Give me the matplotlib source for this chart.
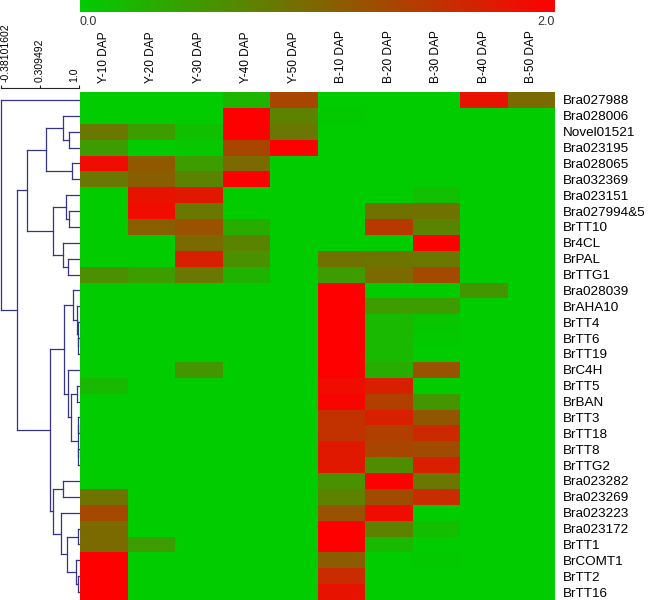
import numpy as np
import matplotlib
matplotlib.use('Agg')
import matplotlib.pyplot as plt
from matplotlib.colors import LinearSegmentedColormap

plt.rcParams['font.family'] = ['Liberation Sans', 'DejaVu Sans']

stages = ['Y-10 DAP', 'Y-20 DAP', 'Y-30 DAP', 'Y-40 DAP', 'Y-50 DAP',
          'B-10 DAP', 'B-20 DAP', 'B-30 DAP', 'B-40 DAP', 'B-50 DAP']

genes = ['Bra027988', 'Bra028006', 'Novel01521', 'Bra023195', 'Bra028065',
         'Bra032369', 'Bra023151', 'Bra027994&5', 'BrTT10', 'Br4CL',
         'BrPAL', 'BrTTG1', 'Bra028039', 'BrAHA10', 'BrTT4', 'BrTT6',
         'BrTT19', 'BrC4H', 'BrTT5', 'BrBAN', 'BrTT3', 'BrTT18', 'BrTT8',
         'BrTTG2', 'Bra023282', 'Bra023269', 'Bra023223', 'Bra023172',
         'BrTT1', 'BrCOMT1', 'BrTT2', 'BrTT16']

# relative expression, one row per gene (columns follow stages)
expr = [
    [0, 0, 0, 0.22, 1.32, 0, 0, 0, 1.82, 0.96],
    [0, 0, 0, 2.0, 0.72, 0.03, 0, 0, 0, 0],
    [0.83, 0.47, 0.13, 2.0, 0.83, 0, 0, 0, 0, 0],
    [0.47, 0, 0.05, 1.32, 2.0, 0, 0, 0, 0, 0],
    [1.88, 1.13, 0.47, 0.96, 0, 0, 0, 0, 0, 0],
    [0.83, 1.07, 0.71, 2.0, 0, 0, 0, 0, 0, 0],
    [0, 1.82, 1.76, 0, 0, 0, 0, 0.13, 0, 0],
    [0, 1.88, 0.83, 0, 0, 0, 0.88, 0.88, 0, 0],
    [0, 1.07, 1.19, 0.31, 0, 0, 1.44, 0.71, 0, 0],
    [0, 0, 0.96, 0.71, 0, 0, 0, 2.0, 0, 0],
    [0, 0, 1.69, 0.58, 0, 0.88, 0.86, 0.83, 0, 0],
    [0.6, 0.47, 0.83, 0.25, 0, 0.47, 0.96, 1.29, 0, 0],
    [0, 0, 0, 0, 0, 2.0, 0, 0, 0.53, 0],
    [0, 0, 0, 0, 0, 2.0, 0.47, 0.47, 0, 0],
    [0, 0, 0, 0, 0, 2.0, 0.19, 0.06, 0, 0],
    [0, 0, 0, 0, 0, 2.0, 0.19, 0.03, 0, 0],
    [0, 0, 0, 0, 0, 2.0, 0.19, 0, 0, 0],
    [0, 0, 0.53, 0, 0, 2.0, 0.31, 1.19, 0, 0],
    [0.19, 0, 0, 0, 0, 1.88, 1.69, 0, 0, 0],
    [0, 0, 0, 0, 0, 1.95, 1.38, 0.53, 0, 0],
    [0, 0, 0, 0, 0, 1.51, 1.69, 1.15, 0, 0],
    [0, 0, 0, 0, 0, 1.51, 1.38, 1.6, 0, 0],
    [0, 0, 0, 0, 0, 1.76, 1.32, 1.25, 0, 0],
    [0, 0, 0, 0, 0, 1.76, 0.63, 1.69, 0, 0],
    [0, 0, 0, 0, 0, 0.58, 2.0, 0.83, 0, 0],
    [0.86, 0, 0, 0, 0, 0.72, 1.25, 1.57, 0, 0],
    [1.29, 0, 0, 0, 0, 1.19, 1.88, 0, 0, 0],
    [0.96, 0, 0, 0, 0, 2.0, 0.72, 0.15, 0, 0],
    [0.96, 0.47, 0, 0, 0, 2.0, 0.19, 0, 0, 0],
    [2.0, 0, 0, 0, 0, 1.1, 0, 0.03, 0, 0],
    [2.0, 0, 0, 0, 0, 1.57, 0, 0, 0, 0],
    [2.0, 0, 0, 0, 0, 1.82, 0, 0, 0, 0],
]

# gene tree: [similarity, left, right]; ints are row indices
tree = [-0.38101602, 0,
        [-0.098,
         [0.079,
          [0.416, [0.717, 1, [0.824, 2, 3]], [0.877, 4, 5]],
          [0.540, [0.770, 6, [0.824, 7, 8]], [0.717, 9, [0.806, 10, 11]]]],
         [0.487,
          [0.735,
           [0.894, 12, [0.960, 13, [0.975, 14, [0.990, 15, 16]]]],
           [0.806, 17, [0.859, [0.965, 18, 19],
                        [0.975, [0.985, 20, 21], [0.985, 22, 23]]]]],
          [0.540,
           [0.717, 24, 25],
           [0.682, 26, [0.788, [0.983, 27, 28],
                        [0.947, 29, [0.990, 30, 31]]]]]]]]

scale_ticks = [-0.38101602, 0.309492, 1.0]
vmin, vmax = 0.0, 2.0


def draw_tree(ax, node, color):
    '''draws the node and returns (row position, similarity)'''
    if isinstance(node, int):
        return node + 0.5, 1.0
    h, left, right = node
    y1, h1 = draw_tree(ax, left, color)
    y2, h2 = draw_tree(ax, right, color)
    kw = dict(color=color, lw=0.9, clip_on=False)
    ax.plot([h, h], [y1, y2], **kw)
    ax.plot([h, h1], [y1, y1], **kw)
    ax.plot([h, h2], [y2, y2], **kw)
    return (y1 + y2) / 2.0, h


W, H = 658.0, 600.0
fig = plt.figure(figsize=(6.58, 6.0), dpi=100)
cmap = LinearSegmentedColormap.from_list('gr', ['#00cc00', '#ff0000'])

n_rows = len(genes)
row_h = 508.0 / n_rows
top = 92.0
# heatmap: 80..555 px wide, rows from y=92 down to the bottom edge
ax_h = fig.add_axes([80 / W, (H - top - row_h * n_rows) / H, 475 / W,
                     row_h * n_rows / H])
mesh = ax_h.pcolormesh(np.array(expr), cmap=cmap, vmin=vmin, vmax=vmax)
ax_h.set_xlim(0, len(stages))
ax_h.set_ylim(n_rows, 0)
ax_h.set_xticks(np.arange(len(stages)) + 0.5)
ax_h.set_xticklabels(stages, rotation=90, fontsize=8.6)
ax_h.xaxis.tick_top()
ax_h.set_yticks(np.arange(n_rows) + 0.5)
ax_h.set_yticklabels(genes, fontsize=9.7)
ax_h.yaxis.tick_right()
ax_h.tick_params(length=0)
ax_h.tick_params(axis='x', pad=6.5)
ax_h.tick_params(axis='y', pad=5.5)
for s in ax_h.spines.values():
    s.set_visible(False)

# dendrogram, with its similarity scale on top
ax_d = fig.add_axes([1 / W, (H - top - row_h * n_rows) / H, 78 / W,
                     (row_h * n_rows + 4) / H])
draw_tree(ax_d, tree, '#34348a')
ax_d.set_xlim(scale_ticks[0], scale_ticks[-1])
ax_d.set_ylim(n_rows, -4.0 / row_h)
for side in ['left', 'right', 'bottom']:
    ax_d.spines[side].set_visible(False)
ax_d.spines['top'].set_color('#222222')
ax_d.spines['top'].set_linewidth(0.8)
ax_d.set_yticks([])
ax_d.xaxis.tick_top()
ax_d.set_xticks(scale_ticks)
ax_d.set_xticklabels(['-0.38101602', '0.309492', '1.0'], rotation=90,
                     fontsize=7.5)
ax_d.tick_params(axis='x', direction='out', length=2.5, width=0.8, pad=1.5,
                 color='#222222')
labels = ax_d.get_xticklabels()
labels[0].set_ha('left')
labels[-1].set_ha('right')

# colour bar across the top
ax_c = fig.add_axes([80 / W, (H - 12) / H, 475 / W, 12 / H])
cb = fig.colorbar(mesh, cax=ax_c, orientation='horizontal')
cb.outline.set_visible(False)
ax_c.set_xticks([])
fig.text(80 / W, 1 - 16 / H, '%.1f' % vmin, ha='left', va='top', fontsize=9,
         color='#333333')
fig.text(555 / W, 1 - 16 / H, '%.1f' % vmax, ha='right', va='top', fontsize=9,
         color='#333333')

plt.savefig('out.png', dpi=100)
